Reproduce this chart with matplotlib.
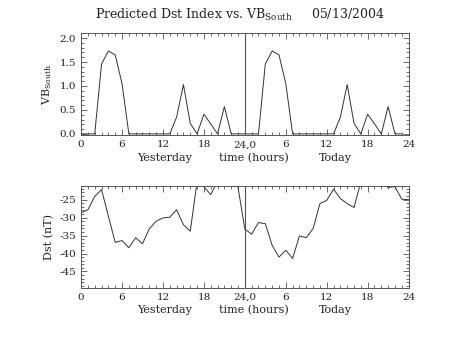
import numpy as np
import matplotlib
matplotlib.use("Agg")
import matplotlib.pyplot as plt
from matplotlib.ticker import MultipleLocator, FixedLocator, FormatStrFormatter

plt.rcParams['font.family'] = ['DejaVu Serif']
plt.rcParams['mathtext.fontset'] = 'dejavuserif'

# hours 0..47 (yesterday + today)
hours = np.arange(48)
# VB south, same pattern both days
vb_day = [0, 0, 0, 1.46, 1.73, 1.65, 1.05, 0, 0, 0, 0, 0,
          0, 0, 0.35, 1.03, 0.22, 0, 0.41, 0.21, 0, 0.57, 0, 0]
vb_south = vb_day + vb_day

dst_hours = np.arange(49)
dst = [-28.7, -27.8, -24.1, -22.2, -29.6, -36.9, -36.4, -38.4, -35.6, -37.3,
       -33.1, -31.0, -30.1, -29.9, -27.8, -32.0, -33.8, -20.0, -21.4, -23.6,
       -20.0, -19.5, -20.0, -21.6, -33.2, -34.6, -31.4, -31.7, -37.7, -41.0,
       -39.1, -41.4, -35.1, -35.6, -33.1, -26.1, -25.2, -22.1, -24.7, -26.1,
       -27.2, -20.0, -19.5, -20.0, -20.5, -21.6, -21.4, -24.9, -25.0]

xticks = [0, 6, 12, 18, 24, 30, 36, 42, 48]
xticklabels = ['0', '6', '12', '18', '24,0', '6', '12', '18', '24']

line_col = '#333333'
ax_col = '#555555'
txt_col = '#222222'

fig = plt.figure(figsize=(4.53, 3.40), dpi=100)
ax1 = fig.add_axes([0.179, 0.602, 0.723, 0.300])
ax2 = fig.add_axes([0.179, 0.153, 0.723, 0.300])

def style(ax):
    ax.set_xlim(0, 48)
    ax.xaxis.set_major_locator(FixedLocator(xticks))
    ax.set_xticklabels(xticklabels)
    ax.xaxis.set_minor_locator(MultipleLocator(1))
    ax.tick_params(which='both', direction='in', top=True, right=True,
                   colors=ax_col, labelcolor=txt_col, labelsize=7.5, width=0.6)
    ax.tick_params(which='major', length=4)
    ax.tick_params(which='minor', length=2)
    for s in ax.spines.values():
        s.set_color(ax_col)
        s.set_linewidth(0.7)
    ax.axvline(24, color=ax_col, lw=0.8)
    tr = ax.get_xaxis_transform()
    ax.text(12.3, -0.22, 'Yesterday', transform=tr,
            ha='center', va='center', fontsize=8, color=txt_col)
    ax.text(25.3, -0.22, 'time (hours)', transform=tr,
            ha='center', va='center', fontsize=8, color=txt_col)
    ax.text(37.2, -0.22, 'Today', transform=tr,
            ha='center', va='center', fontsize=8, color=txt_col)

ax1.plot(hours, vb_south, color=line_col, lw=0.7)
style(ax1)
ax1.set_ylim(-0.03, 2.1)
ax1.yaxis.set_major_locator(MultipleLocator(0.5))
ax1.yaxis.set_minor_locator(MultipleLocator(0.1))
ax1.yaxis.set_major_formatter(FormatStrFormatter('%.1f'))
ax1.set_ylabel('VB$_{\\rm South}$', fontsize=8, color=txt_col, labelpad=4)

ax2.plot(dst_hours, dst, color=line_col, lw=0.7)
style(ax2)
ax2.set_ylim(-49.6, -21.2)
ax2.yaxis.set_major_locator(FixedLocator([-45, -40, -35, -30, -25]))
ax2.yaxis.set_minor_locator(MultipleLocator(1))
ax2.set_yticklabels(['-45', '-40', '-35', '-30', '-25'])
ax2.set_ylabel('Dst (nT)', fontsize=8, color=txt_col, labelpad=4)

fig.text(0.53, 0.955, 'Predicted Dst Index vs. VB$_{\\rm South}$     05/13/2004',
         ha='center', va='center', fontsize=9, color=txt_col)

fig.savefig('out.png', dpi=100)
